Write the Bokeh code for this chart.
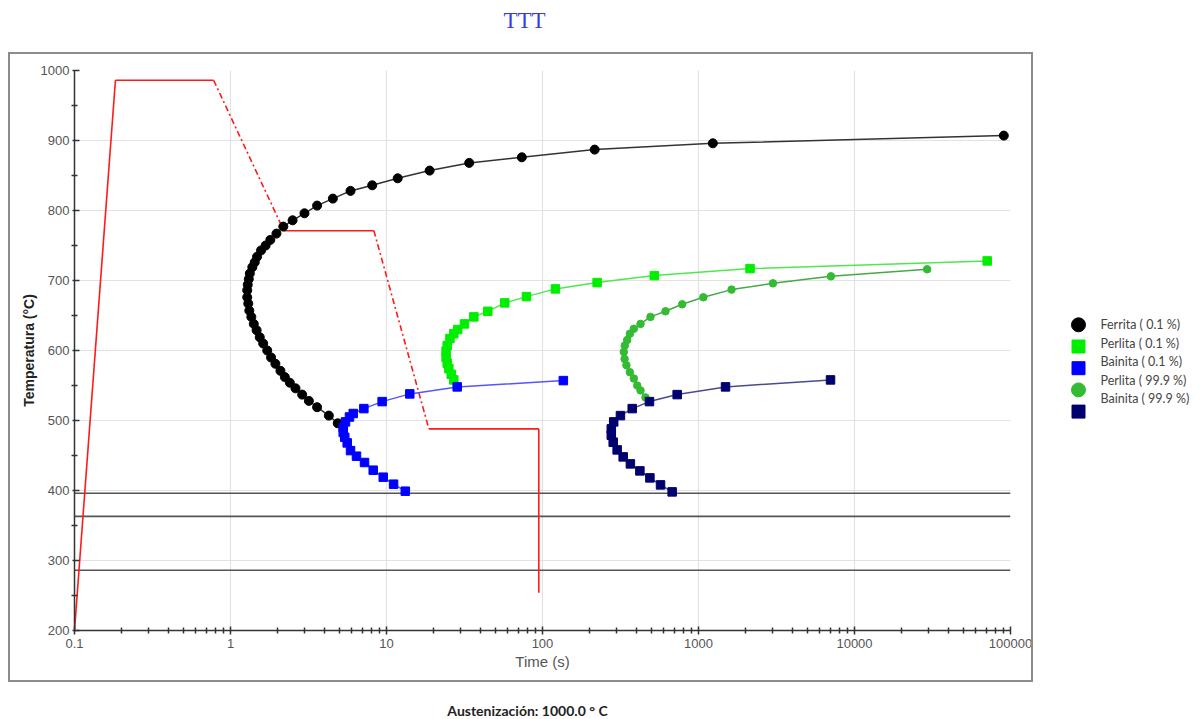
from bokeh.plotting import figure
from bokeh.models import FixedTicker, Range1d
from bokeh.layouts import row, column
from bokeh.embed import file_html
from bokeh.resources import INLINE
from bokeh.core.properties import value

# ---------------- data ----------------
title_text = "TTT"
x_label = "Time (s)"
y_label = "Temperatura (°C)"
footer_text = "Austenización: 1000.0 ° C"

x_tick_values = [0.1, 1, 10, 100, 1000, 10000, 100000]
x_tick_labels = ["0.1", "1", "10", "100", "1000", "10000", "100000"]
y_tick_values = [200, 300, 400, 500, 600, 700, 800, 900, 1000]
y_minor_values = [250, 350, 450, 550, 650, 750, 850, 950]

ferrita_t = [90600, 1236, 216, 73.7, 33.9, 18.9, 11.8, 8.10, 5.88, 4.53, 3.59, 2.98, 2.50,
             2.18, 1.97, 1.80, 1.68, 1.57, 1.48, 1.43, 1.38, 1.33, 1.31, 1.29, 1.28, 1.28,
             1.30, 1.32, 1.36, 1.41, 1.47, 1.54, 1.62, 1.72, 1.82, 1.94, 2.09, 2.23, 2.40,
             2.61, 2.88, 3.18, 3.59, 4.27, 4.87]
ferrita_T = [907, 896, 887, 876, 868, 857, 846, 836, 828, 817, 807, 796, 786,
             777, 767, 758, 750, 743, 734, 726, 719, 710, 702, 694, 686, 676,
             667, 657, 648, 638, 629, 619, 610, 600, 590, 581, 571, 562, 554,
             546, 537, 528, 519, 507, 496]

perlita01_t = [27.0, 26.0, 25.1, 24.5, 24.1, 24.1, 24.5, 25.5, 27.0, 28.6, 31.6, 36.3, 44.6,
               57.3, 78.9, 121, 224, 521, 2140, 70900]
perlita01_T = [558, 566, 574, 582, 590, 599, 607, 617, 624, 630, 638, 648, 656,
               668, 677, 688, 697, 707, 717, 728]

bainita01_t = [136, 28.4, 14.1, 9.38, 7.16, 6.12, 5.79, 5.46, 5.28, 5.28, 5.40, 5.60, 5.88,
               6.42, 7.23, 8.22, 9.53, 11.1, 13.2]
bainita01_T = [557, 548, 538, 527, 517, 510, 505, 498, 490, 483, 476, 468, 457,
               449, 440, 429, 419, 409, 399]

perlita999_t = [457, 425, 405, 385, 363, 345, 336, 332, 337, 349, 363, 385, 425, 492, 614,
                786, 1074, 1629, 3000, 7060, 29200]
perlita999_T = [533, 543, 550, 560, 569, 579, 588, 598, 607, 615, 624, 631, 638, 648, 656,
                666, 676, 687, 696, 706, 716]

bainita999_t = [7020, 1490, 730, 485, 376, 316, 286, 276, 276, 284, 301, 329, 366, 421,
                488, 571, 678]
bainita999_T = [558, 548, 537, 527, 517, 507, 498, 488, 479, 469, 458, 448, 438, 428,
                418, 408, 398]

# cooling path (red)
cool_t = [0.1, 0.183, 0.78, 2.2, 8.3, 18.7, 94.7, 94.7]
cool_T = [200, 986, 986, 771, 771, 488, 488, 254]
cool_style = ["solid", "solid", "dashdot", "solid", "dashdot", "solid", "solid"]

# horizontal reference temperatures
ref_T = [396, 363, 286]

# legend
legend_labels = ["Ferrita  ( 0.1 %)", "Perlita ( 0.1 %)", "Bainita ( 0.1 %)",
                 "Perlita ( 99.9 %)", "Bainita ( 99.9  %)"]
legend_markers = ["circle", "square", "square", "circle", "square"]
marker_colors = ["#000000", "#00ee00", "#0000ff", "#33bb33", "#00006e"]
line_colors = ["#333333", "#4ee84e", "#5555ff", "#44aa44", "#4a4a90"]

# ---------------- layout sizes ----------------
W, W1, W2 = 1203, 1050, 153
H_TOP, H_MID, H_BOT = 40, 655, 24
FRAME_TOP = 70 - H_TOP          # frame top inside the middle row
FRAME_H = 560
MB_BOTTOM = H_MID - FRAME_TOP - FRAME_H


def blank_fig(width, height, xr, yr, **kw):
    f = figure(width=width, height=height, x_range=xr, y_range=yr,
               output_backend="svg", toolbar_location=None,
               x_axis_location=None, y_axis_location=None, **kw)
    f.outline_line_color = None
    f.xgrid.visible = False
    f.ygrid.visible = False
    return f


# ---------------- title strip ----------------
top = blank_fig(W, H_TOP, Range1d(0, W), Range1d(H_TOP, 0),
                min_border_left=0, min_border_right=0, min_border_top=0, min_border_bottom=0)
top.text([524], [20], text=[title_text], text_font=value("Liberation Serif"),
         text_font_size=value("23px"), text_align="center", text_baseline="middle",
         text_color="#3b3be6")

# ---------------- main figure ----------------
p = figure(width=W1, height=H_MID, x_axis_type="log",
           x_range=Range1d(0.1, 100000), y_range=Range1d(200, 1000),
           output_backend="svg", toolbar_location=None,
           min_border_left=74, min_border_right=W1 - 74 - 936,
           min_border_top=FRAME_TOP, min_border_bottom=MB_BOTTOM)
p.outline_line_color = None
p.background_fill_color = "white"
p.border_fill_color = "white"

xt = FixedTicker(ticks=x_tick_values,
                 minor_ticks=[m * d for d in [0.1, 1, 10, 100, 1000, 10000] for m in range(2, 10)])
p.xaxis.ticker = xt
p.xaxis.major_label_overrides = {v: s for v, s in zip(x_tick_values, x_tick_labels)}
p.yaxis.ticker = FixedTicker(ticks=y_tick_values, minor_ticks=y_minor_values)
for ax in (p.xaxis[0], p.yaxis[0]):
    ax.axis_line_color = "#333333"
    ax.axis_line_width = 1.5
    ax.major_tick_line_color = "#333333"
    ax.minor_tick_line_color = "#333333"
    ax.major_tick_line_width = 1.5
    ax.minor_tick_line_width = 1.5
    ax.major_label_text_font = "Liberation Sans"
    ax.major_label_text_font_size = "13px"
    ax.major_label_text_color = "#555555"
p.xaxis.major_tick_in = 4
p.xaxis.major_tick_out = 4
p.xaxis.minor_tick_in = 3
p.xaxis.minor_tick_out = 3
p.xaxis.major_label_standoff = 4
p.xaxis.axis_label = x_label
p.xaxis.axis_label_text_font = "Liberation Sans"
p.xaxis.axis_label_text_font_style = "normal"
p.xaxis.axis_label_text_font_size = "15px"
p.xaxis.axis_label_text_color = "#555555"
p.xaxis.axis_label_standoff = 2

p.yaxis.major_tick_in = 5
p.yaxis.major_tick_out = 2
p.yaxis.minor_tick_in = 3
p.yaxis.minor_tick_out = 3
p.yaxis.major_label_standoff = 2
p.yaxis.axis_label = y_label
p.yaxis.axis_label_text_font = "Liberation Sans"
p.yaxis.axis_label_text_font_style = "bold"
p.yaxis.axis_label_text_font_size = "14px"
p.yaxis.axis_label_text_color = "#222222"
p.yaxis.axis_label_standoff = 1

p.xgrid.ticker = FixedTicker(ticks=x_tick_values)
p.ygrid.ticker = FixedTicker(ticks=y_tick_values)
p.xgrid.grid_line_color = "#e2e2e2"
p.ygrid.grid_line_color = "#e2e2e2"
p.xgrid.grid_line_width = 1.2
p.ygrid.grid_line_width = 1.2

for T in ref_T:
    p.line([x_tick_values[0], x_tick_values[-1]], [T, T], line_color="#555555", line_width=1.6)

for i, st in enumerate(cool_style):
    kw = dict(line_color="#ff1a1a", line_width=1.6)
    if st == "dashdot":
        kw["line_dash"] = "6 3 2 3"
    p.line(cool_t[i:i + 2], cool_T[i:i + 2], **kw)

series = [(ferrita_t, ferrita_T, 9), (perlita01_t, perlita01_T, 8.5),
          (bainita01_t, bainita01_T, 8.5), (perlita999_t, perlita999_T, 7.5),
          (bainita999_t, bainita999_T, 8.5)]
for (ts, Ts, sz), mk, mc, lc in zip(series, legend_markers, marker_colors, line_colors):
    p.line(ts, Ts, line_color=lc, line_width=1.5)
    p.scatter(ts, Ts, marker=mk, size=sz, fill_color=mc, line_color=mc)

# ---------------- legend panel (frame aligned with the plot frame) ----------------
leg = blank_fig(W2, H_MID, Range1d(W1, W), Range1d(70 + FRAME_H, 70),
                min_border_left=0, min_border_right=0,
                min_border_top=FRAME_TOP, min_border_bottom=MB_BOTTOM)
n = len(legend_labels)
glyph_y = [324.3 + i * 21.7 for i in range(n)]
text_y = [324 + i * 18.5 for i in range(n)]
leg.scatter([1078] * n, glyph_y, marker=legend_markers, size=[14, 13, 13, 14, 13],
            fill_color=marker_colors, line_color=marker_colors)
leg.text([1100] * n, text_y, text=legend_labels, text_font=value("Lato"),
         text_font_size=value("12.5px"), text_baseline="middle", text_align="left",
         text_color="#444444")

# ---------------- footer strip ----------------
bot = blank_fig(W, H_BOT, Range1d(0, W), Range1d(H_BOT, 0),
                min_border_left=0, min_border_right=0, min_border_top=0, min_border_bottom=0)
bot.text([527], [710 - (H_TOP + H_MID)], text=[footer_text], text_font=value("Lato"),
         text_font_style="bold", text_font_size=value("14px"), text_align="center",
         text_baseline="middle", text_color="#222222")

layout = column(top, row(p, leg), bot)
html = file_html(layout, INLINE)
frame_div = ('<div style="position:absolute;left:8px;top:52px;width:1025px;height:630px;'
             'border:2px solid #8c8c8c;box-sizing:border-box;pointer-events:none;z-index:100;"></div>')
html = html.replace("</body>", frame_div + "</body>", 1)
open("out.html", "w").write(html)
